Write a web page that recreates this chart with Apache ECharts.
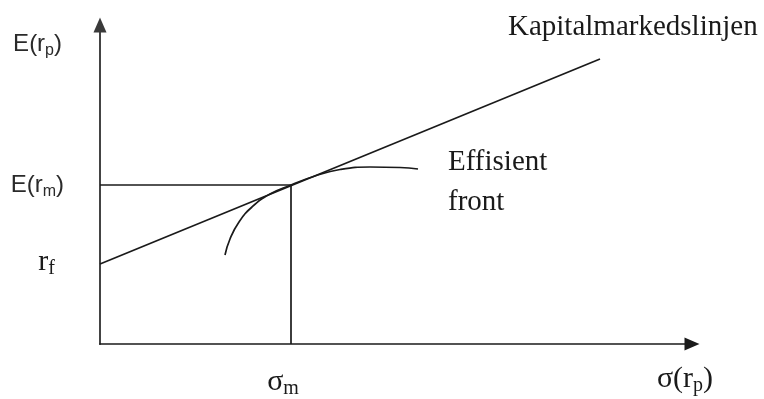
<!DOCTYPE html>
<html>
<head>
<meta charset="utf-8">
<script src="https://cdn.jsdelivr.net/npm/echarts@6.0.0/dist/echarts.min.js"></script>
<style>
  html, body { margin: 0; padding: 0; background: #fff; }
  #main { width: 764px; height: 399px; }
</style>
</head>
<body>
<div id="main"></div>
<script>
// values (arbitrary units, risk on x, return on y)
const riskFree = 80;
const marketSigma = 191;
const marketReturn = 159;
const cmlSigma = [0, 500];
const cmlReturn = [80, 285];
const frontierSigma = [125, 130, 139, 152, 170, 191, 215, 240, 270, 300, 318];
const frontierReturn = [89, 105, 122, 137, 150, 159, 168, 174.5, 177, 176.5, 175];

const cmlName = 'Kapitalmarkedslinjen';
const frontierName = 'Effisient\nfront';

const ink = '#1a1a1a';
const serif = 'Liberation Serif';
const sans = 'Liberation Sans';

const serifRich = {
    t: {fontFamily: serif, fontSize: 30, color: ink, lineHeight: 34},
    s: {fontFamily: serif, fontSize: 20, color: ink, lineHeight: 22, verticalAlign: 'bottom'}
};
const sansRich = {
    t: {fontFamily: sans, fontSize: 24, color: '#2a2a2a', lineHeight: 30},
    s: {fontFamily: sans, fontSize: 16, color: '#2a2a2a', lineHeight: 20, verticalAlign: 'bottom'}
};

const lineStyle = {color: ink, width: 1.7};

function pairs(xs, ys) {
    return xs.map((x, i) => [x, ys[i]]);
}

const cmlData = pairs(cmlSigma, cmlReturn).map((p, i) => {
    if (i === 0) {
        return {value: p, label: {show: true, position: 'left', distance: 45, offset: [0, -2],
            formatter: '{t|r}{s|f}', rich: serifRich}};
    }
    return {value: p, label: {show: true, position: 'right', offset: [-97, -32],
        formatter: cmlName, fontFamily: serif, fontSize: 29, color: ink}};
});

const frontierData = pairs(frontierSigma, frontierReturn).map((p, i, arr) => {
    if (i === arr.length - 1) {
        return {value: p, label: {show: true, position: 'right', distance: 30, offset: [0, 13],
            formatter: frontierName, fontFamily: serif, fontSize: 29, lineHeight: 40, color: ink}};
    }
    return p;
});

const hData = [
    {value: [0, marketReturn], label: {show: true, position: 'left', distance: 36,
        formatter: '{t|E(r}{s|m}{t|)}', rich: sansRich}},
    [marketSigma, marketReturn]
];
const vData = [
    {value: [marketSigma, 0], label: {show: true, position: 'bottom', distance: 21, offset: [-8, 0],
        formatter: '{t|σ}{s|m}', rich: serifRich}},
    [marketSigma, marketReturn]
];

function lineSeries(data, extra) {
    return Object.assign({
        type: 'line',
        data: data,
        symbol: 'circle',
        symbolSize: 0,
        lineStyle: lineStyle,
        itemStyle: {color: ink},
        silent: true
    }, extra || {});
}

const myChart = echarts.init(document.getElementById('main'));
myChart.setOption({
    animation: false,
    backgroundColor: '#fff',
    grid: {left: 100, right: 72, top: 25, bottom: 55},
    xAxis: {
        type: 'value', min: 0, max: 592,
        name: '{t|σ(r}{s|p}{t|)}',
        nameLocation: 'end',
        nameGap: -7,
        nameTextStyle: {align: 'center', verticalAlign: 'top', padding: [18, 0, 0, 0], rich: serifRich},
        axisLine: {lineStyle: {color: ink, width: 1.7}, symbol: ['none', 'triangle'], symbolSize: [13, 15]},
        axisTick: {show: false},
        axisLabel: {show: false},
        splitLine: {show: false}
    },
    yAxis: {
        type: 'value', min: 0, max: 319,
        name: '{t|E(r}{s|p}{t|)}',
        nameLocation: 'end',
        nameGap: -19,
        nameTextStyle: {align: 'right', verticalAlign: 'middle', padding: [0, 38, 0, 0], rich: sansRich},
        axisLine: {lineStyle: {color: '#3a3a3a', width: 1.9}, symbol: ['none', 'triangle'], symbolSize: [13, 15]},
        axisTick: {show: false},
        axisLabel: {show: false},
        splitLine: {show: false}
    },
    series: [
        lineSeries(hData),
        lineSeries(vData),
        lineSeries(cmlData),
        lineSeries(frontierData, {smooth: 0.5})
    ]
});
</script>
</body>
</html>
